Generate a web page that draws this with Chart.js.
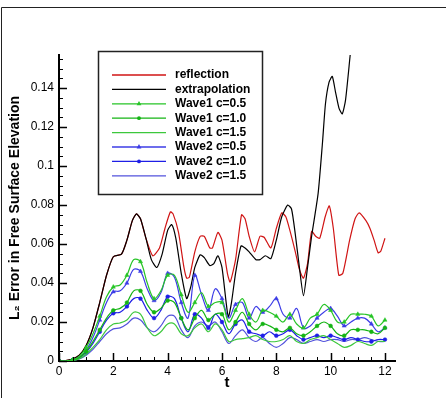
<!DOCTYPE html>
<html><head><meta charset="utf-8">
<script src="https://cdn.jsdelivr.net/npm/chart.js@4/dist/chart.umd.min.js"></script>
<style>html,body{margin:0;padding:0;background:#fff}#wrap{width:446px;height:398px;position:relative}</style>
</head><body><div id="wrap"><canvas id="c"></canvas></div>
<script>
// ---- data ----
const xTickValues = [0, 2, 4, 6, 8, 10, 12];
const yTickValues = [0, 0.02, 0.04, 0.06, 0.08, 0.1, 0.12, 0.14];
const yTickLabels = ['0', '0.02', '0.04', '0.06', '0.08', '0.1', '0.12', '0.14'];
const seriesNames = ['reflection', 'extrapolation', 'Wave1 c=0.5', 'Wave1 c=1.0', 'Wave1 c=1.5', 'Wave2 c=0.5', 'Wave2 c=1.0', 'Wave2 c=1.5'];

const reflectionT = [0,0.25,0.5,0.75,1.0,1.25,1.5,1.75,2.0,2.3,2.5,2.7,2.85,3.0,3.2,3.45,3.7,3.9,4.1,4.2,4.4,4.6,4.7,4.8,5.0,5.2,5.35,5.55,5.65,5.85,6.0,6.2,6.3,6.5,6.72,6.85,7.0,7.2,7.4,7.55,7.8,8.0,8.2,8.35,8.5,8.7,8.85,9.0,9.15,9.3,9.45,9.6,9.8,9.95,10.1,10.3,10.45,10.7,10.9,11.05,11.3,11.45,11.6,11.75,11.85,12.0];
const reflectionV = [0,0.0002,0.001,0.003,0.008,0.017,0.030,0.044,0.0535,0.0548,0.062,0.072,0.0755,0.073,0.063,0.054,0.058,0.068,0.0765,0.0755,0.066,0.048,0.0425,0.043,0.056,0.064,0.064,0.058,0.058,0.066,0.062,0.045,0.0405,0.052,0.075,0.073,0.064,0.056,0.064,0.0635,0.058,0.068,0.076,0.074,0.067,0.056,0.047,0.0425,0.050,0.0665,0.064,0.063,0.074,0.0796,0.068,0.044,0.045,0.062,0.073,0.076,0.072,0.068,0.062,0.0555,0.0565,0.063];

const extrapolationT = [0,0.25,0.5,0.75,1.0,1.25,1.5,1.75,2.0,2.3,2.5,2.7,2.85,3.0,3.2,3.4,3.6,3.8,4.0,4.15,4.3,4.5,4.7,4.85,5.0,5.2,5.35,5.55,5.7,5.85,6.0,6.23,6.35,6.5,6.7,6.85,7.0,7.25,7.4,7.6,7.8,8.0,8.2,8.42,8.56,8.7,8.85,9.0,9.15,9.3,9.54,9.7,9.81,9.94,10.06,10.18,10.31,10.43,10.55,10.72];
const extrapolationV = [0,0.0002,0.001,0.003,0.008,0.017,0.030,0.044,0.0535,0.0548,0.062,0.072,0.0755,0.073,0.063,0.052,0.048,0.055,0.067,0.070,0.063,0.045,0.032,0.038,0.048,0.0545,0.053,0.049,0.050,0.054,0.048,0.0225,0.030,0.045,0.059,0.058,0.056,0.052,0.052,0.054,0.0525,0.062,0.074,0.080,0.078,0.065,0.048,0.0335,0.048,0.064,0.086,0.112,0.132,0.143,0.146,0.138,0.1296,0.1268,0.134,0.157];

const waveT = [0,0.25,0.5,0.75,1,1.25,1.5,1.75,2,2.25,2.5,2.75,3,3.25,3.5,3.75,4,4.25,4.5,4.75,5,5.25,5.5,5.75,6,6.25,6.5,6.75,7,7.25,7.5,7.75,8,8.25,8.5,8.75,9,9.25,9.5,9.75,10,10.25,10.5,10.75,11,11.25,11.5,11.75,12];
const wave1c05 = [0,0,0.0006,0.0025,0.007,0.014,0.023,0.033,0.038, 0.039,0.044,0.052,0.051,0.040,0.032,0.036,0.044, 0.044,0.034,0.025,0.030,0.035,0.028,0.030,0.030, 0.020,0.026,0.032,0.024,0.020,0.026,0.025,0.023, 0.020,0.024,0.019,0.017,0.022,0.024,0.029,0.026, 0.020,0.020,0.024,0.024,0.024,0.023,0.018,0.021];
const wave1c10 = [0,0,0.0004,0.0018,0.005,0.010,0.016,0.022,0.026, 0.027,0.030,0.036,0.036,0.029,0.025,0.027,0.031, 0.030,0.022,0.016,0.022,0.026,0.021,0.024,0.024, 0.016,0.020,0.025,0.019,0.016,0.019,0.018,0.016, 0.015,0.017,0.014,0.013,0.015,0.018,0.020,0.018, 0.014,0.013,0.016,0.016,0.016,0.015,0.014,0.017];
const wave1c15 = [0,0,0.0003,0.0012,0.0035,0.007,0.011,0.016,0.019, 0.0195,0.021,0.025,0.024,0.017,0.013,0.015,0.019, 0.019,0.014,0.013,0.017,0.019,0.015,0.019,0.016, 0.010,0.011,0.0115,0.012,0.013,0.011,0.010,0.010, 0.011,0.013,0.010,0.009,0.011,0.012,0.013,0.011, 0.009,0.007,0.008,0.010,0.009,0.008,0.010,0.010];
const wave2c05 = [0,0,0.0005,0.002,0.0055,0.012,0.021,0.030,0.0355, 0.036,0.040,0.047,0.046,0.037,0.031,0.035,0.045, 0.043,0.030,0.022,0.044,0.034,0.026,0.037,0.032, 0.022,0.029,0.030,0.022,0.028,0.025,0.028,0.032, 0.024,0.022,0.027,0.017,0.018,0.022,0.025,0.027, 0.023,0.018,0.020,0.022,0.022,0.019,0.015,0.017];
const wave2c10 = [0,0,0.0004,0.0016,0.0045,0.009,0.015,0.021,0.0245, 0.025,0.028,0.032,0.032,0.026,0.022,0.026,0.033, 0.032,0.022,0.015,0.024,0.022,0.017,0.024,0.020, 0.014,0.019,0.021,0.015,0.014,0.013,0.015,0.013, 0.014,0.016,0.013,0.011,0.012,0.013,0.012,0.013, 0.012,0.011,0.012,0.011,0.010,0.010,0.011,0.011];
const wave2c15 = [0,0,0.0003,0.0011,0.003,0.006,0.010,0.014,0.0165, 0.017,0.019,0.022,0.021,0.017,0.015,0.018,0.023, 0.023,0.016,0.012,0.018,0.020,0.018,0.020,0.015, 0.009,0.013,0.016,0.012,0.010,0.012,0.009,0.007, 0.009,0.012,0.011,0.009,0.010,0.011,0.010,0.011, 0.011,0.010,0.011,0.011,0.012,0.011,0.010,0.010];

// ---- build ----
const pts = (ts, vs) => ts.map((t, i) => ({x: t, y: vs[i]}));
const FONT = "'Liberation Sans', Arial, sans-serif";
const TRI_R = 2.4, CIR_R = 1.9;
const markerR = (r) => (ctx) => (ctx.dataIndex % 2 === 0 ? r : 0);

function ds(label, data, color, order, style, r, tension) {
  return {
    label, data, borderColor: color, backgroundColor: color,
    borderWidth: 1.2, tension: tension, order: order,
    pointStyle: style || 'circle',
    pointRadius: style ? markerR(r) : 0,
    markerStyle: style, markerSize: r,
    pointBackgroundColor: color, pointBorderColor: color, pointBorderWidth: 0.5,
    fill: false
  };
}

const datasets = [
  ds(seriesNames[0], pts(reflectionT, reflectionV), '#d01414', 3, null, 0, 0.2),
  ds(seriesNames[1], pts(extrapolationT, extrapolationV), '#000000', 2, null, 0, 0.2),
  ds(seriesNames[2], pts(waveT, wave1c05), '#26c426', 1, 'triangle', TRI_R, 0.35),
  ds(seriesNames[3], pts(waveT, wave1c10), '#14b414', 1, 'circle', CIR_R, 0.35),
  ds(seriesNames[4], pts(waveT, wave1c15), '#3cc83c', 1, null, 0, 0.35),
  ds(seriesNames[5], pts(waveT, wave2c05), '#3c3ce6', 1, 'triangle', TRI_R, 0.35),
  ds(seriesNames[6], pts(waveT, wave2c10), '#1e1ee6', 1, 'circle', CIR_R, 0.35),
  ds(seriesNames[7], pts(waveT, wave2c15), '#5252dc', 1, null, 0, 0.35)
];

const decor = {
  id: 'decor',
  beforeDraw(chart) {
    const c = chart.ctx;
    c.save();
    c.strokeStyle = '#222'; c.lineWidth = 1;
    c.beginPath();
    c.moveTo(1.5, 398); c.lineTo(1.5, 7.5); c.lineTo(446, 7.5);
    c.stroke();
    c.restore();
  },
  afterDraw(chart) {
    const c = chart.ctx, xs = chart.scales.x, ys = chart.scales.y;
    const x0 = xs.getPixelForValue(0), y0 = ys.getPixelForValue(0);
    c.save();
    c.strokeStyle = '#000';
    for (let k = 0; k <= 24; k++) {
      const v = k * 0.5, px = Math.round(xs.getPixelForValue(v)) + 0.5;
      const major = k % 4 === 0;
      c.lineWidth = major ? 1.5 : 1;
      c.beginPath(); c.moveTo(px, y0); c.lineTo(px, y0 - (major ? 8 : 4)); c.stroke();
    }
    for (let k = 0; k <= 31; k++) {
      const v = k * 0.005, py = Math.round(ys.getPixelForValue(v)) + 0.5;
      const major = k % 4 === 0;
      c.lineWidth = major ? 1.5 : 1;
      c.beginPath(); c.moveTo(x0, py); c.lineTo(x0 + (major ? 8 : 4), py); c.stroke();
    }
    // legend
    const bx = 98.5, by = 51.5, bw = 164, bh = 143;
    c.fillStyle = '#fff';
    c.fillRect(bx, by, bw, bh);
    c.lineWidth = 1.5; c.strokeStyle = '#222';
    c.strokeRect(bx, by, bw, bh);
    c.font = 'bold 12px ' + FONT;
    c.textBaseline = 'middle';
    chart.data.datasets.forEach((d, i) => {
      const y = 75 + i * 14.4;
      c.strokeStyle = d.borderColor; c.lineWidth = 1.3;
      c.beginPath(); c.moveTo(112, y); c.lineTo(166, y); c.stroke();
      if (d.markerStyle) {
        const r = d.markerSize;
        c.fillStyle = d.borderColor;
        c.beginPath();
        if (d.markerStyle === 'triangle') {
          c.moveTo(139, y - r * 1.2); c.lineTo(139 + r, y + r * 0.6); c.lineTo(139 - r, y + r * 0.6); c.closePath();
        } else {
          c.arc(139, y, r, 0, Math.PI * 2);
        }
        c.fill();
      }
      c.fillStyle = '#000';
      c.fillText(d.label, 175, y);
    });
    c.restore();
  }
};

new Chart(document.getElementById('c'), {
  type: 'line',
  data: {datasets},
  options: {
    responsive: true, maintainAspectRatio: false, animation: false, events: [],
    devicePixelRatio: 1,
    layout: {padding: {left: 0, top: 55, right: 51, bottom: 0}},
    plugins: {legend: {display: false}, tooltip: {enabled: false}},
    scales: {
      x: {
        type: 'linear', min: 0, max: 12.37,
        border: {display: true, color: '#000', width: 2},
        grid: {display: false, drawTicks: false},
        afterBuildTicks: s => { s.ticks = xTickValues.map(v => ({value: v})); },
        afterFit: s => { s.height = 37; },
        ticks: {color: '#000', font: {family: FONT, size: 12}, padding: 3, maxRotation: 0, autoSkip: false,
                callback: v => String(v)},
        title: {display: true, text: 't', color: '#000', font: {family: FONT, size: 15, weight: 'bold'}, padding: {top: 0, bottom: 6}}
      },
      y: {
        type: 'linear', min: 0, max: 0.157,
        border: {display: true, color: '#000', width: 2},
        grid: {display: false, drawTicks: false},
        afterBuildTicks: s => { s.ticks = yTickValues.map(v => ({value: v})); },
        afterFit: s => { s.width = 59; },
        ticks: {color: '#000', font: {family: FONT, size: 12}, padding: 5, autoSkip: false,
                callback: (v, i) => yTickLabels[i]},
        title: {display: true, text: 'L\u2082 Error in Free Surface Elevation', color: '#000', font: {family: FONT, size: 14, weight: 'bold'}, padding: {top: 7, bottom: 0}}
      }
    }
  },
  plugins: [decor]
});
</script>
</body></html>
